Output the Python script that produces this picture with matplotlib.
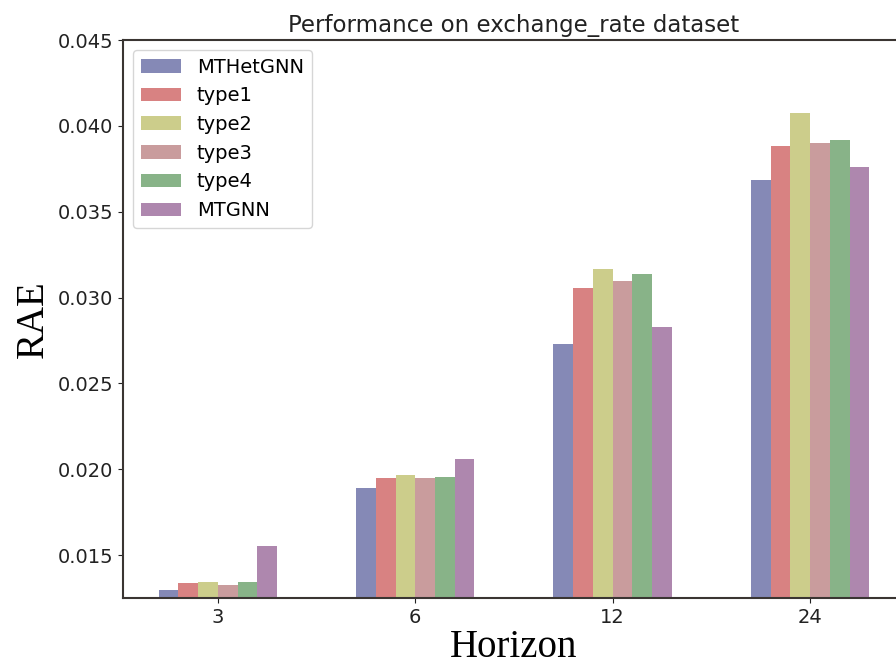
import matplotlib
matplotlib.use("Agg")
import matplotlib.pyplot as plt
import numpy as np

# data
horizons = ["3", "6", "12", "24"]
models   = ["MTHetGNN", "type1", "type2", "type3", "type4", "MTGNN"]
mthetgnn = [0.01297, 0.01890, 0.02728, 0.03686]
type1    = [0.01335, 0.01949, 0.03057, 0.03880]
type2    = [0.01345, 0.01969, 0.03167, 0.04077]
type3    = [0.01326, 0.01949, 0.03097, 0.03899]
type4    = [0.01345, 0.01957, 0.03138, 0.03919]
mtgnn    = [0.01554, 0.02058, 0.02829, 0.03758]
colores  = ["#8589b6", "#d88282", "#cccd8b", "#c99c9d", "#88b388", "#ae87ae"]

series = [mthetgnn, type1, type2, type3, type4, mtgnn]

plt.rcParams['font.size'] = 14
fig = plt.figure(figsize=(8.96, 6.68), dpi=100)
ax = fig.add_axes([0.1373, 0.1048, 0.8727, 0.8353])

x = np.arange(len(horizons))
ancho = 0.1
for i, vals in enumerate(series):
    ax.bar(x + (i - 2.5) * ancho, vals, ancho, color=colores[i], label=models[i])

ax.set_xticks(x)
ax.set_xticklabels(horizons)
ax.set_ylim(0.0125, 0.045)
ax.set_yticks([0.015, 0.020, 0.025, 0.030, 0.035, 0.040, 0.045])
ax.set_yticklabels(["0.015", "0.020", "0.025", "0.030", "0.035", "0.040", "0.045"])
ax.tick_params(colors="#222222", labelsize=14)
for s in ax.spines.values():
    s.set_color("#3a3532")
    s.set_linewidth(1.5)

ax.set_title("Performance on exchange_rate dataset", fontsize=16.5, color="#222222")
ax.set_xlabel("Horizon", fontsize=28, family="Liberation Serif", labelpad=2)
ax.set_ylabel("RAE", fontsize=28, family="Liberation Serif", labelpad=4)

ax.legend(loc="upper left", fontsize=14, handlelength=2.1)

fig.savefig("out.png", dpi=100)
